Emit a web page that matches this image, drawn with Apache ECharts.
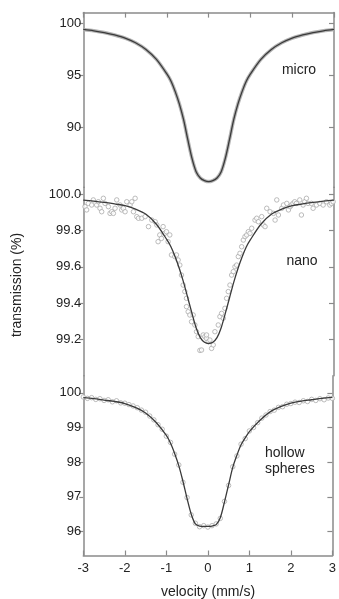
<!DOCTYPE html>
<html><head><meta charset="utf-8">
<script src="https://cdn.jsdelivr.net/npm/echarts@6/dist/echarts.min.js"></script>
<style>html,body{margin:0;padding:0;background:#fff}#c{width:339px;height:599px}</style>
</head><body><div id="c"></div>
<script>
// velocity grid for fitted curves (mm/s)
const fitX = [-3,-2.75,-2.5,-2.25,-2,-1.75,-1.5,-1.25,-1,-0.9,-0.8,-0.7,-0.6,-0.5,-0.4,-0.3,-0.2,-0.1,0,0.1,0.2,0.3,0.4,0.5,0.6,0.7,0.8,0.9,1,1.25,1.5,1.75,2,2.25,2.5,2.75,3];
const microFit = [99.38,99.25,99.08,98.85,98.55,98.1,97.45,96.5,95.1,94.4,93.4,92.2,90.7,88.8,87.0,85.7,85.1,84.85,84.75,84.85,85.1,85.7,87.0,88.8,90.7,92.2,93.4,94.4,95.1,96.5,97.45,98.1,98.55,98.85,99.08,99.25,99.38];
const nanoFit = [99.968,99.962,99.955,99.947,99.937,99.918,99.89,99.835,99.75,99.71,99.655,99.59,99.515,99.43,99.345,99.265,99.21,99.185,99.178,99.185,99.21,99.265,99.345,99.43,99.515,99.59,99.655,99.71,99.75,99.835,99.89,99.918,99.937,99.947,99.955,99.962,99.968];
const hollowFit = [99.86,99.83,99.79,99.75,99.69,99.58,99.42,99.15,98.77,98.55,98.25,97.9,97.45,96.95,96.5,96.22,96.16,96.15,96.15,96.16,96.2,96.4,96.85,97.35,97.85,98.2,98.5,98.7,98.88,99.2,99.45,99.6,99.7,99.76,99.8,99.84,99.87];

// measured points
const nanoPtsX = [-2.96,-2.88,-2.92,-2.80,-2.76,-2.68,-2.64,-2.60,-2.56,-2.52,-2.48,-2.40,-2.36,-2.32,-2.28,-2.24,-2.20,-2.12,-2.08,-2.04,-2.00,-1.96,-1.88,-1.84,-1.80,-1.76,-1.72,-1.68,-1.60,-1.52,-1.44,-1.36,-1.28,-1.24,-1.21,-1.17,-1.13,-1.09,-1.05,-1.01,-0.97,-0.93,-0.89,-0.81,-0.77,-0.73,-0.69,-0.65,-0.61,-0.57,-0.53,-0.53,-0.49,-0.45,-0.41,-0.37,-0.33,-0.29,-0.25,-0.21,-0.17,-0.13,-0.09,-0.05,-0.01,
 -0.05,0.03,0.07,0.11,0.15,0.23,0.27,0.31,0.35,0.39,0.43,0.47,0.51,0.55,0.59,0.63,0.67,0.71,0.75,0.79,0.83,0.87,0.91,0.95,0.99,1.03,1.11,1.15,1.19,1.27,1.31,1.35,1.39,1.47,1.55,1.59,1.63,1.67,1.75,1.79,1.87,1.91,1.95,1.98,2.02,2.06,2.10,2.18,2.22,2.26,2.30,2.34,2.38,2.46,2.50,2.58,2.66,2.74,2.82,2.90,2.94,2.98];
const nanoPtsY = [99.932,99.950,99.914,99.941,99.969,99.941,99.959,99.923,99.904,99.978,99.950,99.932,99.895,99.904,99.895,99.923,99.969,99.941,99.914,99.923,99.904,99.959,99.941,99.959,99.904,99.978,99.877,99.868,99.868,99.877,99.822,99.858,99.849,99.831,99.739,99.776,99.757,99.822,99.785,99.794,99.739,99.776,99.666,99.657,99.666,99.638,99.61,99.555,99.50,99.464,99.427,99.381,99.353,99.335,99.298,99.335,99.28,99.243,99.216,99.14,99.142,99.225,99.216,99.206,99.188,
 99.225,99.197,99.151,99.17,99.243,99.28,99.326,99.344,99.317,99.372,99.427,99.464,99.50,99.555,99.574,99.601,99.61,99.657,99.675,99.711,99.748,99.767,99.776,99.794,99.785,99.813,99.858,99.868,99.849,99.877,99.831,99.822,99.923,99.904,99.895,99.858,99.969,99.886,99.923,99.941,99.950,99.914,99.932,99.941,99.950,99.959,99.950,99.969,99.886,99.941,99.959,99.978,99.950,99.950,99.923,99.941,99.950,99.941,99.959,99.941,99.950,99.959];

const hollowPtsX = [-3.0,-2.9,-2.8,-2.7,-2.6,-2.5,-2.4,-2.3,-2.2,-2.1,-2.0,-1.9,-1.8,-1.7,-1.6,-1.5,-1.4,-1.3,-1.2,-1.1,-1.0,-0.9,-0.8,-0.7,-0.6,-0.5,-0.4,-0.3,-0.2,-0.1,0.0,0.1,0.2,0.3,0.4,0.5,0.6,0.7,0.8,0.9,1.0,1.1,1.2,1.3,1.4,1.5,1.6,1.7,1.8,1.9,2.0,2.1,2.2,2.3,2.4,2.5,2.6,2.7,2.8,2.9,3.0];
const hollowPtsY = [99.88,99.84,99.86,99.81,99.83,99.78,99.80,99.74,99.77,99.71,99.70,99.66,99.62,99.57,99.50,99.44,99.33,99.22,99.08,98.95,98.75,98.57,98.23,97.92,97.42,96.98,96.48,96.24,96.14,96.17,96.13,96.17,96.22,96.38,96.87,97.33,97.87,98.18,98.52,98.68,98.90,99.00,99.14,99.27,99.36,99.46,99.50,99.58,99.60,99.67,99.69,99.73,99.72,99.77,99.75,99.81,99.78,99.83,99.80,99.85,99.84];

// tick labels
const xTicks = [-3,-2,-1,0,1,2,3];
const microTicks = [90,95,100];
const nanoTicks = [99.2,99.4,99.6,99.8,100.0];
const hollowTicks = [96,97,98,99,100];

const zip = (a,b) => a.map((v,i)=>[v,b[i]]);

const frame = '#8a8a8a';
const FONT = 'Liberation Sans, Arial, sans-serif';
const labelStyle = {color:'#222', fontSize:13, fontFamily:FONT};
const L = 83.3, R = 5;
const grids = [
  {left:L, right:R, top:12.6, height:174.7},
  {left:L, right:R, top:187.3, height:188.5},
  {left:L, right:R, top:375.8, height:179.7}
];
function yPair(gi, min, max, ticks, dec){
  return [
    {type:'value', gridIndex:gi, position:'left', min:min, max:max,
     axisLine:{show:true, onZero:false, lineStyle:{color:frame, width:1.5}},
     axisTick:{show:true, inside:false, length:4, customValues:ticks, lineStyle:{color:frame, width:1.2}},
     axisLabel:Object.assign({show:true, margin:2, customValues:ticks, formatter:v=>Number(v).toFixed(dec)}, labelStyle),
     splitLine:{show:false}},
    {type:'value', gridIndex:gi, position:'right', min:min, max:max,
     axisLine:{show:true, onZero:false, lineStyle:{color:frame, width:1.5}},
     axisTick:{show:true, inside:true, length:5, customValues:ticks, lineStyle:{color:frame, width:1.2}},
     axisLabel:{show:false}, splitLine:{show:false}}
  ];
}
const xBase = {type:'value', min:-3, max:3, interval:1, splitLine:{show:false}};
const option = {
  animation:false,
  grid: grids,
  xAxis: [
    Object.assign({}, xBase, {gridIndex:0, position:'top', axisLine:{show:true, onZero:false, lineStyle:{color:frame, width:1.5}}, axisTick:{show:true, inside:true, length:5, lineStyle:{color:frame, width:1.2}}, axisLabel:{show:false}}),
    Object.assign({}, xBase, {gridIndex:1, axisLine:{show:false, onZero:false}, axisTick:{show:false}, axisLabel:{show:false}}),
    Object.assign({}, xBase, {gridIndex:2, position:'bottom', axisLine:{show:true, onZero:false, lineStyle:{color:frame, width:1.5}}, axisTick:{show:true, inside:true, length:5, lineStyle:{color:frame, width:1.2}},
      axisLabel:Object.assign({show:true, margin:6, customValues:xTicks, formatter:v=>String(v)}, labelStyle)})
  ],
  yAxis: [].concat(yPair(0,84.2,101,microTicks,0), yPair(1,99.0,100.0386,nanoTicks,1), yPair(2,95.31,100.49,hollowTicks,0)),
  series: [
    {type:'line', xAxisIndex:0, yAxisIndex:0, data:zip(fitX,microFit), smooth:0.3, showSymbol:false, lineStyle:{color:'#b4b4b4', width:3.5}, z:2},
    {type:'line', xAxisIndex:0, yAxisIndex:0, data:zip(fitX,microFit), smooth:0.3, showSymbol:false, lineStyle:{color:'#3a3a3a', width:1.3}, z:3},
    {type:'scatter', xAxisIndex:1, yAxisIndex:2, data:zip(nanoPtsX,nanoPtsY), symbol:'circle', symbolSize:4.5, itemStyle:{color:'#fff', borderColor:'#ababab', borderWidth:1}, z:2},
    {type:'line', xAxisIndex:1, yAxisIndex:2, data:zip(fitX,nanoFit), smooth:0.3, showSymbol:false, lineStyle:{color:'#3a3a3a', width:1.3}, z:3},
    {type:'scatter', xAxisIndex:2, yAxisIndex:4, data:zip(hollowPtsX,hollowPtsY), symbol:'circle', symbolSize:4.5, itemStyle:{color:'#fff', borderColor:'#ababab', borderWidth:1}, z:2},
    {type:'line', xAxisIndex:2, yAxisIndex:4, data:zip(fitX,hollowFit), smooth:0.3, showSymbol:false, lineStyle:{color:'#3a3a3a', width:1.3}, z:3}
  ],
  graphic: [
    {type:'text', x:299, y:70, style:{text:'micro', fill:'#222', font:'14px '+FONT, align:'center', verticalAlign:'middle'}},
    {type:'text', x:302, y:261, style:{text:'nano', fill:'#222', font:'14px '+FONT, align:'center', verticalAlign:'middle'}},
    {type:'text', x:265, y:445, style:{text:'hollow\nspheres', fill:'#222', font:'14px '+FONT, lineHeight:16, align:'left', verticalAlign:'top'}},
    {type:'text', x:208, y:592, style:{text:'velocity (mm/s)', fill:'#222', font:'14px '+FONT, align:'center', verticalAlign:'middle'}},
    {type:'text', x:17, y:285, rotation:Math.PI/2, style:{text:'transmission (%)', fill:'#222', font:'14px '+FONT, align:'center', verticalAlign:'middle'}}
  ]
};
echarts.init(document.getElementById('c')).setOption(option);
</script></body></html>
